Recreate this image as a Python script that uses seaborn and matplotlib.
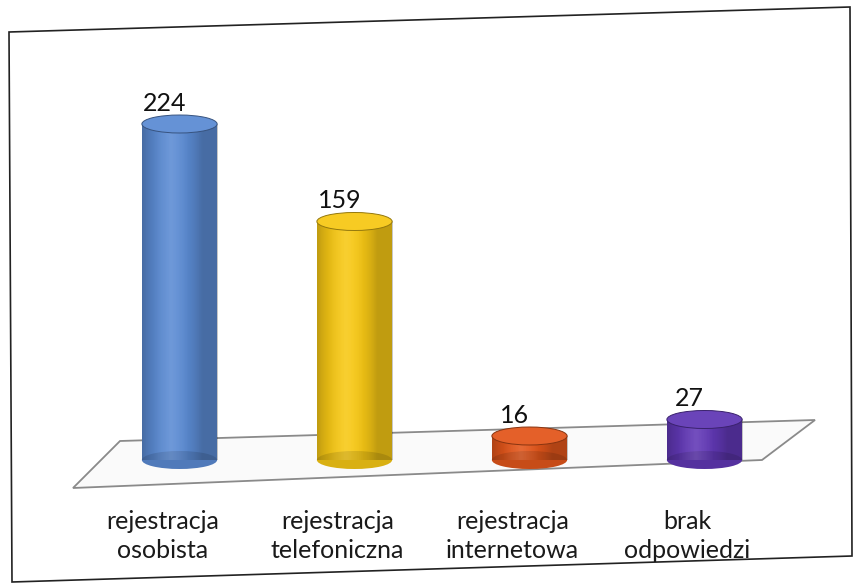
import matplotlib
matplotlib.use("Agg")
import matplotlib.pyplot as plt
import matplotlib.colors as mcolors
import matplotlib.transforms as mtransforms
import seaborn as sns
import pandas as pd
import numpy as np
from matplotlib.patches import Ellipse, Polygon

categories = ["rejestracja\nosobista", "rejestracja\ntelefoniczna",
              "rejestracja\ninternetowa", "brak\nodpowiedzi"]
values = [224, 159, 16, 27]
colors = ["#5B8BD3", "#F7C815", "#E2561B", "#6138B5"]

sns.set_theme(style="white")
plt.rcParams['font.family'] = ['Lato', 'DejaVu Sans']

W, H = 861, 584
fig = plt.figure(figsize=(W / 100, H / 100), dpi=100)
fig.patch.set_facecolor("white")

def fpx(pts):
    return [(x / W, 1 - y / H) for x, y in pts]

# outer (scanned, slightly rotated) frame
fig.add_artist(Polygon(fpx([(9, 32), (850, 7), (852, 556), (12, 582)]),
                       closed=True, fill=False, ec="#222222", lw=1.2,
                       transform=fig.transFigure, zorder=-2))
# floor of the 3D chart
fig.add_artist(Polygon(fpx([(73, 488), (120, 441), (815, 420), (762, 460)]),
                       closed=True, fc="#fafafa", ec="#8a8a8a", lw=1.3,
                       transform=fig.transFigure, zorder=-1))

ax = fig.add_axes([92 / W, 1 - 460 / H, 700 / W, 360 / H])
ax.patch.set_alpha(0)

df = pd.DataFrame({"cat": categories, "val": values})
sns.barplot(data=df, x="cat", y="val", hue="cat", palette=colors,
            width=0.43, legend=False, ax=ax, saturation=1)
ax.set_ylim(0, 240)
ax.set_xlim(-0.5, 3.5)

ell_h = 12  # data units
xs = np.linspace(0, 1, 64)
shade = 0.5 * (xs - 0.4) ** 2 / 0.36
for bar, col, v in zip(ax.patches, colors, values):
    x0 = bar.get_x(); w = bar.get_width(); cx = x0 + w / 2
    bar.set_edgecolor("none")
    rgba = np.zeros((1, 64, 4))
    rgba[0, :, 3] = np.clip(shade, 0, 0.22)
    ax.imshow(rgba, extent=(x0, x0 + w, 0, v), aspect="auto", zorder=3, interpolation="bilinear")
    hl = np.clip(1 - np.abs(xs - 0.38) / 0.25, 0, 1) * 0.12
    rgbw = np.ones((1, 64, 4)); rgbw[0, :, 3] = hl
    ax.imshow(rgbw, extent=(x0, x0 + w, 0, v), aspect="auto", zorder=3.1, interpolation="bilinear")
    base = np.array(mcolors.to_rgb(col))
    dark = base * 0.88
    ax.add_patch(Ellipse((cx, 0), w, ell_h, fc=dark, ec="none", zorder=2, clip_on=False))
    top = base + (1 - base) * 0.06
    ax.add_patch(Ellipse((cx, v), w, ell_h, fc=top, ec=base * 0.6, lw=0.7, zorder=4, clip_on=False))
    ax.annotate(str(v), (cx, v + ell_h / 2), xytext=(-15, 0), textcoords="offset pixels",
                ha="center", va="bottom", fontsize=18, color="#111111", zorder=5)

ax.set_xlim(-0.5, 3.5)
ax.set_ylim(0, 240)
ax.set_xlabel("")
ax.set_ylabel("")
ax.set_yticks([])
for s in ax.spines.values():
    s.set_visible(False)
ax.tick_params(axis="x", length=0, pad=36, labelsize=18, labelcolor="#1a1a1a")
off = mtransforms.ScaledTranslation(-17 / 100, 0, fig.dpi_scale_trans)
for lab in ax.get_xticklabels():
    lab.set_transform(lab.get_transform() + off)
    lab.set_linespacing(1.3)

fig.savefig("out.png", dpi=100)
